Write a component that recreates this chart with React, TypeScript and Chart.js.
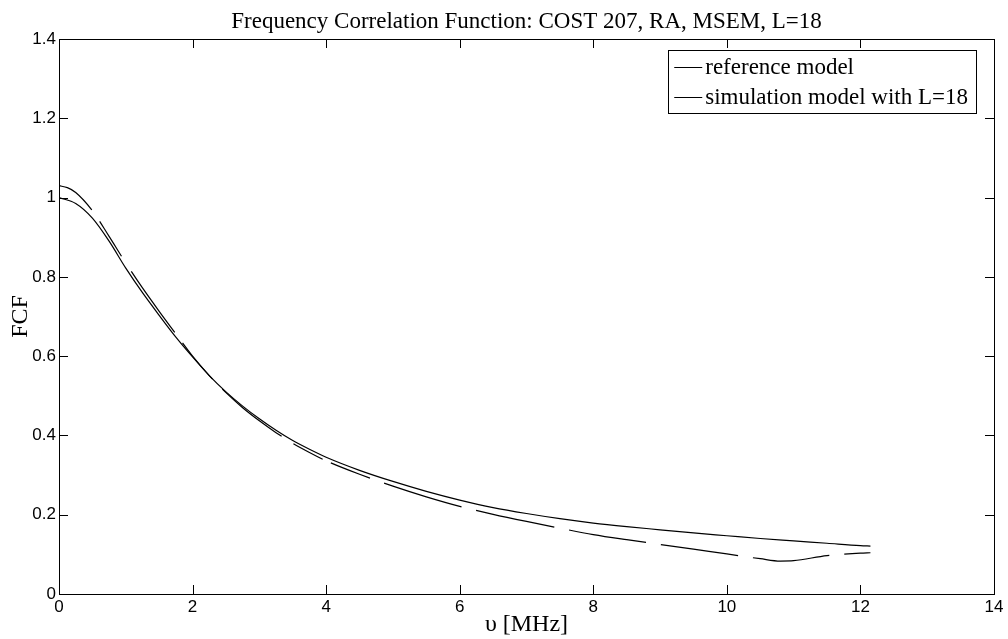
import React, { useEffect, useRef } from "react";
import { Chart, registerables } from "chart.js";

Chart.register(...registerables);

// ---- data ----
const freqRef = [0, 0.25, 0.5, 0.75, 1, 1.25, 1.5, 1.75, 2, 2.25, 2.5, 2.75, 3, 3.25, 3.5, 3.75, 4, 4.5, 5, 5.5, 6, 6.5, 7, 7.5, 8, 8.5, 9, 9.5, 10, 10.5, 11, 11.5, 12, 12.15];
const fcfRef = [1.0, 0.985, 0.948, 0.89, 0.822, 0.76, 0.703, 0.648, 0.598, 0.551, 0.51, 0.474, 0.442, 0.413, 0.387, 0.365, 0.345, 0.312, 0.284, 0.259, 0.237, 0.218, 0.203, 0.19, 0.179, 0.17, 0.162, 0.154, 0.147, 0.14, 0.134, 0.128, 0.122, 0.121];

const freqSim = [0, 0.125, 0.25, 0.5, 0.75, 1, 1.25, 1.5, 1.75, 2, 2.25, 2.5, 2.75, 3, 3.25, 3.5, 3.75, 4, 4.5, 5, 5.5, 6, 6.5, 7, 7.5, 8, 8.5, 9, 9.5, 10, 10.5, 10.8, 11, 11.5, 12, 12.15];
const fcfSim = [1.03, 1.025, 1.013, 0.967, 0.902, 0.835, 0.772, 0.713, 0.656, 0.6, 0.551, 0.508, 0.47, 0.437, 0.407, 0.38, 0.357, 0.336, 0.302, 0.272, 0.245, 0.221, 0.201, 0.183, 0.166, 0.15, 0.137, 0.125, 0.113, 0.101, 0.089, 0.083, 0.084, 0.097, 0.103, 0.104];

// dash / gap lengths (px) of the simulation curve, as seen along the path
const simDashPattern = [42, 14, 41, 18, 75, 13, 47, 14, 76, 14, 33, 9, 42, 15, 81, 15, 80, 15, 78, 15, 78, 15, 77, 15, 77, 15, 77, 15];

const xTickValues = [0, 2, 4, 6, 8, 10, 12, 14];
const xTickLabels = ["0", "2", "4", "6", "8", "10", "12", "14"];
const yTickValues = [0, 0.2, 0.4, 0.6, 0.8, 1, 1.2, 1.4];
const yTickLabels = ["0", "0.2", "0.4", "0.6", "0.8", "1", "1.2", "1.4"];

const titleText = "Frequency Correlation Function: COST 207, RA, MSEM, L=18";
const xTitle = "\u03C5 [MHz]";
const yTitle = "FCF";
const legendLabels = ["reference model", "simulation model with L=18"];

const SERIF = '"Liberation Serif", "DejaVu Serif", serif';
const SANS = '"Liberation Sans Narrow", "Liberation Sans", Arial, sans-serif';

const decorPlugin = {
  id: "matlabDecor",
  afterDraw(chart: any) {
    const ctx = chart.ctx as CanvasRenderingContext2D;
    const { left, right, top, bottom } = chart.chartArea;
    const xs = chart.scales.x;
    const ys = chart.scales.y;
    ctx.save();
    ctx.strokeStyle = "#000";
    ctx.lineWidth = 1;
    ctx.setLineDash([]);
    // frame
    ctx.strokeRect(Math.round(left) + 0.5, Math.round(top) + 0.5, Math.round(right - left), Math.round(bottom - top));
    // inward ticks
    const tl = 9;
    ctx.beginPath();
    xTickValues.forEach((v) => {
      const px = Math.round(xs.getPixelForValue(v)) + 0.5;
      ctx.moveTo(px, bottom);
      ctx.lineTo(px, bottom - tl);
      ctx.moveTo(px, top);
      ctx.lineTo(px, top + tl);
    });
    yTickValues.forEach((v) => {
      const py = Math.round(ys.getPixelForValue(v)) + 0.5;
      ctx.moveTo(left, py);
      ctx.lineTo(left + tl, py);
      ctx.moveTo(right, py);
      ctx.lineTo(right - tl, py);
    });
    ctx.stroke();

    // title
    ctx.fillStyle = "#000";
    ctx.font = `23px ${SERIF}`;
    ctx.textAlign = "center";
    ctx.textBaseline = "alphabetic";
    ctx.fillText(titleText, (left + right) / 2, 28);

    // legend
    ctx.font = `23px ${SERIF}`;
    const textW = Math.max(...legendLabels.map((l) => ctx.measureText(l).width));
    const lineLen = 28;
    const boxW = 6 + lineLen + 3 + textW + 8;
    const boxH = 63;
    const boxR = right - 18;
    const boxL = boxR - boxW;
    const boxT = top + 11;
    ctx.fillStyle = "#fff";
    ctx.fillRect(boxL, boxT, boxW, boxH);
    ctx.strokeRect(Math.round(boxL) + 0.5, Math.round(boxT) + 0.5, Math.round(boxW), boxH);
    ctx.fillStyle = "#000";
    ctx.textAlign = "left";
    ctx.textBaseline = "middle";
    legendLabels.forEach((lab, i) => {
      const cy = boxT + 17 + i * 30;
      ctx.beginPath();
      ctx.moveTo(boxL + 6, Math.round(cy) + 0.5);
      ctx.lineTo(boxL + 6 + lineLen, Math.round(cy) + 0.5);
      ctx.stroke();
      ctx.fillText(lab, boxL + 6 + lineLen + 3, cy + 1);
    });
    ctx.restore();
  },
};

export default function App() {
  const canvasRef = useRef<HTMLCanvasElement | null>(null);

  useEffect(() => {
    const canvas = canvasRef.current;
    if (!canvas) return;
    const chart = new Chart(canvas, {
      type: "line",
      data: {
        datasets: [
          {
            label: legendLabels[0],
            data: freqRef.map((x, i) => ({ x, y: fcfRef[i] })),
            borderColor: "#000",
            borderWidth: 1.2,
            pointRadius: 0,
            fill: false,
            cubicInterpolationMode: "monotone",
          },
          {
            label: legendLabels[1],
            data: freqSim.map((x, i) => ({ x, y: fcfSim[i] })),
            borderColor: "#000",
            borderWidth: 1.2,
            borderDash: simDashPattern,
            pointRadius: 0,
            fill: false,
            cubicInterpolationMode: "monotone",
          },
        ],
      },
      options: {
        responsive: false,
        animation: false,
        devicePixelRatio: 1,
        layout: { padding: { top: 39, right: 14, left: 0, bottom: 0 } },
        plugins: {
          legend: { display: false },
          title: { display: false },
          tooltip: { enabled: false },
        },
        scales: {
          x: {
            type: "linear",
            min: 0,
            max: 14,
            grid: { display: false, drawTicks: false },
            border: { display: false },
            afterBuildTicks: (scale: any) => {
              scale.ticks = xTickValues.map((v) => ({ value: v }));
            },
            afterFit: (scale: any) => {
              scale.height = 45;
            },
            ticks: {
              color: "#000",
              font: { family: SANS, size: 17 },
              padding: 3,
              maxRotation: 0,
              autoSkip: false,
              callback: (_v: any, i: number) => xTickLabels[i],
            },
            title: {
              display: true,
              text: xTitle,
              color: "#000",
              font: { family: SERIF, size: 24 },
              padding: { top: 0, bottom: 0 },
            },
          },
          y: {
            type: "linear",
            min: 0,
            max: 1.4,
            grid: { display: false, drawTicks: false },
            border: { display: false },
            afterBuildTicks: (scale: any) => {
              scale.ticks = yTickValues.map((v) => ({ value: v }));
            },
            afterFit: (scale: any) => {
              scale.width = 59;
            },
            ticks: {
              color: "#000",
              font: { family: SANS, size: 17 },
              padding: 3,
              autoSkip: false,
              callback: (_v: any, i: number) => yTickLabels[i],
            },
            title: {
              display: true,
              text: yTitle,
              color: "#000",
              font: { family: SERIF, size: 24 },
              padding: { top: 6, bottom: 0 },
            },
          },
        },
      },
      plugins: [decorPlugin],
    } as any);
    return () => chart.destroy();
  }, []);

  return (
    <div style={{ position: "fixed", left: 0, top: 0, width: 1008, height: 639, background: "#fff" }}>
      <canvas ref={canvasRef} width={1008} height={639} />
    </div>
  );
}
